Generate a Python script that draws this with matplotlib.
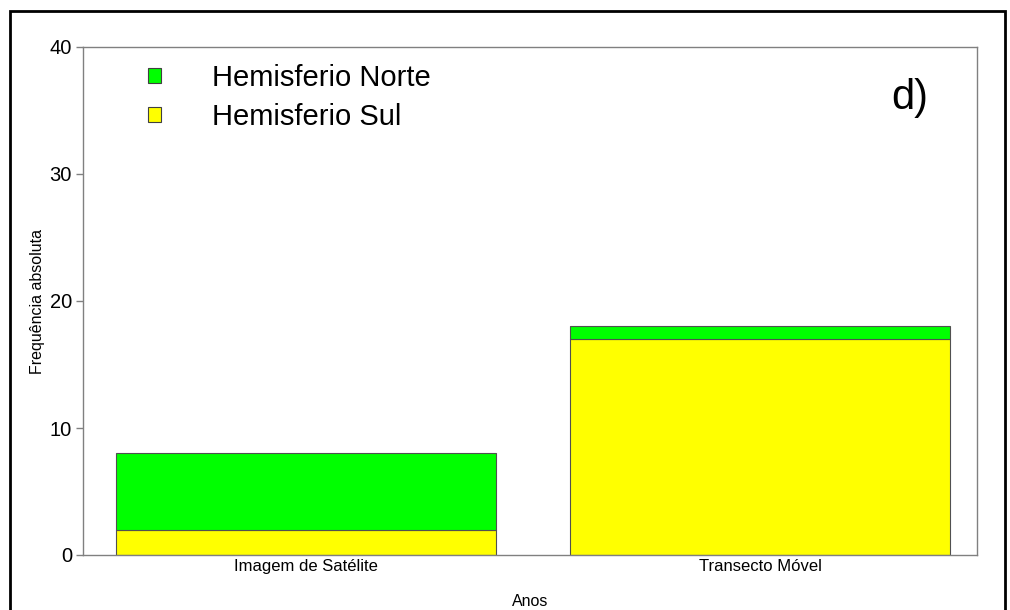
import matplotlib
matplotlib.use("Agg")
import matplotlib.pyplot as plt
from matplotlib.patches import Patch, Rectangle

plt.rcParams['font.family'] = ['Liberation Sans', 'DejaVu Sans']

categories = ["Imagem de Satélite", "Transecto Móvel"]
sul = [2, 17]
norte = [6, 1]
series_labels = ["Hemisferio Norte", "Hemisferio Sul"]
yticks = [0, 10, 20, 30, 40]

GREEN = "#00ff00"
YELLOW = "#ffff00"
GRAY = "#808080"

fig = plt.figure(figsize=(10.1, 6.1), dpi=100)
ax = fig.add_axes([83/1010, 55/610, (977-83)/1010, (555-47)/610])

x = list(range(len(categories)))
w = 0.837
ax.bar(x, sul, width=w, color=YELLOW, edgecolor="#505050", linewidth=0.8)
ax.bar(x, norte, width=w, bottom=sul, color=GREEN, edgecolor="#505050", linewidth=0.8)

ax.set_xlim(-0.491, 1.478)
ax.set_ylim(0, 40)
ax.set_yticks(yticks)
ax.set_yticklabels([str(v) for v in yticks], fontsize=14.5)
ax.set_xticks(x)
ax.set_xticklabels(categories, fontsize=12)
ax.tick_params(axis='x', length=0, pad=3)
ax.tick_params(axis='y', length=5, width=1, color=GRAY, pad=3)
for s in ax.spines.values():
    s.set_color(GRAY)
    s.set_linewidth(1)

ax.set_ylabel("Frequência absoluta", fontsize=11.5, labelpad=3)
ax.set_xlabel("Anos", fontsize=11.5, labelpad=14)

handles = [Patch(facecolor=GREEN, edgecolor="#404040", linewidth=0.8),
           Patch(facecolor=YELLOW, edgecolor="#404040", linewidth=0.8)]
leg = ax.legend(handles, series_labels, loc="upper left", bbox_to_anchor=(0.06, 0.99),
                fontsize=21, frameon=False, handlelength=0.45, handleheight=0.45,
                handletextpad=1.75, labelspacing=0.38, borderaxespad=0)

ax.text(0.925, 0.9, "d)", transform=ax.transAxes, fontsize=30, ha="center", va="center")

fig.add_artist(Rectangle((10/1010, -0.05), 995/1010, (610-11)/610 + 0.05,
                         transform=fig.transFigure, fill=False, edgecolor="black",
                         linewidth=2))

fig.savefig("out.png", dpi=100)
